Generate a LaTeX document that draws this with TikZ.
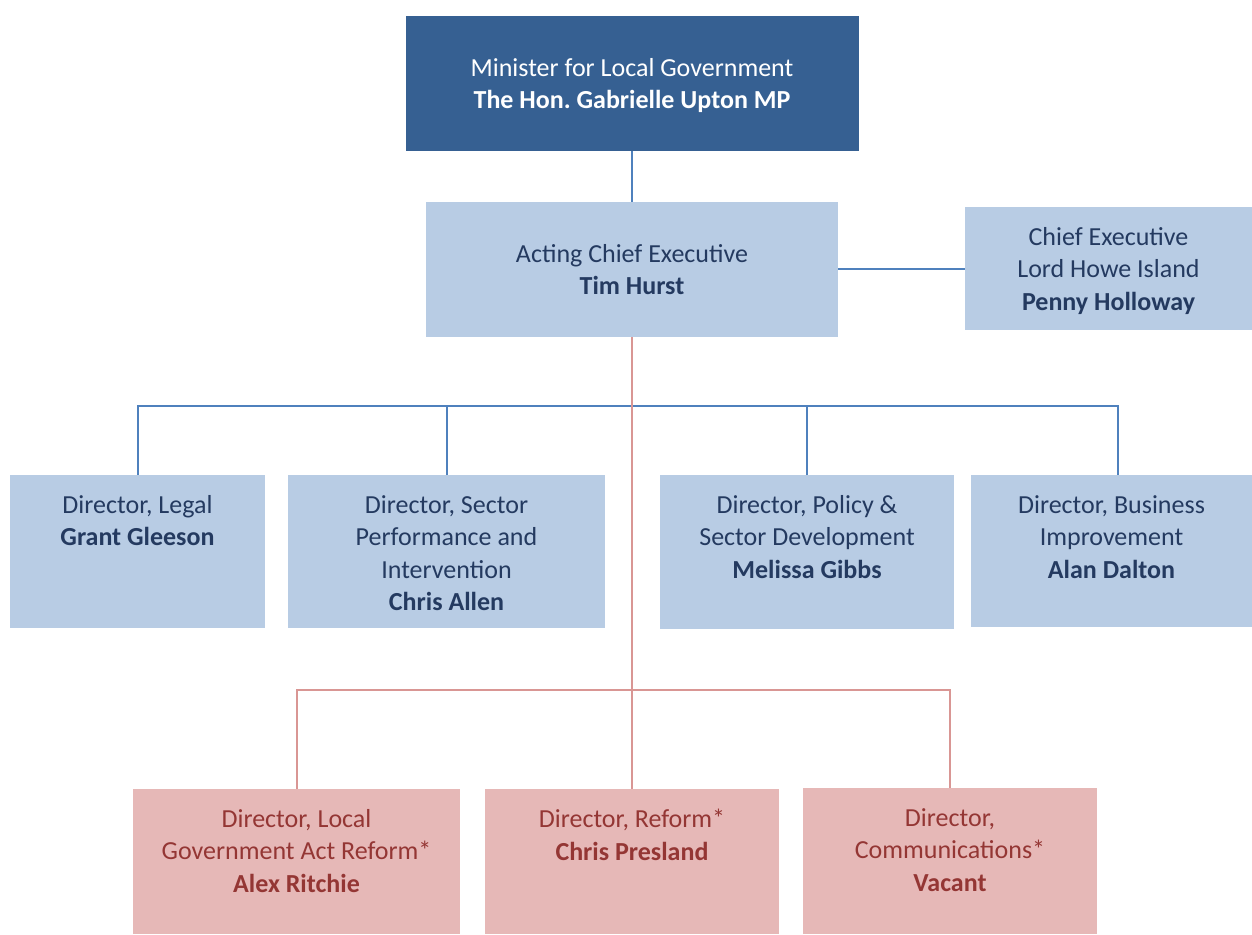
\documentclass[tikz,border=0pt]{standalone}
\usepackage{fontspec}
\setmainfont{Carlito}
\frenchspacing
\usetikzlibrary{positioning}

\definecolor{ministerblue}{RGB}{54,96,146}
\definecolor{paleblue}{RGB}{184,204,228}
\definecolor{navytext}{RGB}{36,58,96}
\definecolor{linkblue}{RGB}{79,129,189}
\definecolor{palered}{RGB}{230,184,183}
\definecolor{linkred}{RGB}{217,150,148}
\definecolor{redtext}{RGB}{148,54,52}

\begin{document}
\begin{tikzpicture}[
    x=1pt, y=-1pt,
    box/.style={inner sep=0pt, outer sep=0pt, align=center, text depth=0pt, font=\fontsize{26}{32.5}\selectfont},
    minister/.style={box, fill=ministerblue, text=white},
    office/.style={box, fill=paleblue, text=navytext},
    reformbox/.style={box, fill=palered, text=redtext},
    toptext/.style={inner sep=0pt, align=center, font=\fontsize{26}{32.5}\selectfont},
    bluelink/.style={draw=linkblue, line width=2pt},
    redlink/.style={draw=linkred, line width=2pt}
  ]
    \useasboundingbox (0,0) rectangle (1252,934);

    % top of the chart
    \node[minister, minimum width=453pt, minimum height=135pt] (minister) at (632,83.5)
      {Minister for Local Government\\\textbf{The Hon. Gabrielle Upton MP}};
    \node[office, minimum width=412pt, minimum height=135pt] (ace) at (632,269.5)
      {Acting Chief Executive\\\textbf{Tim Hurst}};
    \node[office, minimum width=287pt, minimum height=123pt] (lhi) at (1108.5,268.5)
      {Chief Executive\\Lord Howe Island\\\textbf{Penny Holloway}};

    % directors
    \node[office, minimum width=255pt, minimum height=153pt] (legal) at (137.5,551.5) {};
    \node[office, minimum width=317pt, minimum height=153pt] (perf) at (446.5,551.5) {};
    \node[office, minimum width=294pt, minimum height=154pt] (policy) at (807,552) {};
    \node[office, minimum width=281pt, minimum height=152pt] (business) at (1111.5,551) {};
    \node[toptext, text=navytext, below=20pt of legal.north] (legal-t)
      {Director, Legal\\\textbf{Grant Gleeson}};
    \node[toptext, text=navytext, below=20pt of perf.north] (perf-t)
      {Director, Sector\\Performance and\\Intervention\\\textbf{Chris Allen}};
    \node[toptext, text=navytext, below=20pt of policy.north] (policy-t)
      {Director, Policy \&\\Sector Development\\\textbf{Melissa Gibbs}};
    \node[toptext, text=navytext, below=20pt of business.north] (business-t)
      {Director, Business\\Improvement\\\textbf{Alan Dalton}};

    % reform directors
    \node[reformbox, minimum width=327pt, minimum height=145pt] (lga) at (296.5,861.5) {};
    \node[reformbox, minimum width=294pt, minimum height=145pt] (reform) at (632,861.5) {};
    \node[reformbox, minimum width=294pt, minimum height=146pt] (comms) at (950,861) {};
    \node[toptext, text=redtext, below=20pt of lga.north] (lga-t)
      {Director, Local\\Government Act Reform*\\\textbf{Alex Ritchie}};
    \node[toptext, text=redtext, below=20pt of reform.north] (reform-t)
      {Director, Reform*\\\textbf{Chris Presland}};
    \node[toptext, text=redtext, below=20pt of comms.north] (comms-t)
      {Director,\\Communications*\\\textbf{Vacant}};

    \draw[bluelink] (minister) -- (ace);
    \draw[bluelink] ([yshift=0.5pt]ace.east) -- ([yshift=0.5pt]ace.east -| lhi.west);
    \draw[bluelink] (ace.south) -- ++(0,69) coordinate (dirbus);
    \draw[bluelink] (dirbus) -| (legal.north);
    \draw[bluelink] (dirbus) -| (perf.north);
    \draw[bluelink] (dirbus) -| (policy.north);
    \draw[bluelink] (dirbus) -| ([xshift=6.5pt]business.north);

    \draw[redlink] (ace.south) -- (reform.north);
    \draw[redlink] (reform.north |- 0,690) coordinate (redbus) -| (lga.north);
    \draw[redlink] (redbus) -| (comms.north);
  \end{tikzpicture}
\end{document}
